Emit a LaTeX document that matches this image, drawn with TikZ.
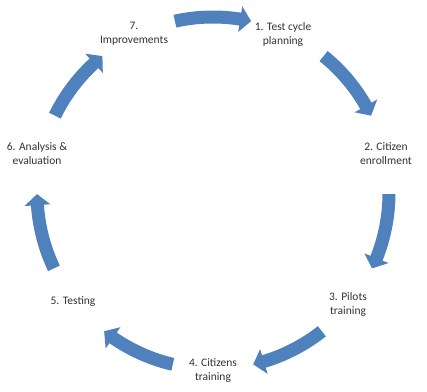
\documentclass[tikz,border=0pt]{standalone}
\usepackage{fontspec}
\setmainfont{Carlito}
\definecolor{arrowblue}{RGB}{79,129,189}
\definecolor{labelgray}{RGB}{50,50,50}
\newcommand{\cycarrow}[1]{%
  \pgfmathsetmacro\ta{#1+12.5}%
  \pgfmathsetmacro\hb{#1-12.5+3.6}%
  \pgfmathsetmacro\tp{#1-12.5}%
  \fill[arrowfill] (\ta:182.5pt) arc[start angle=\ta, end angle=\hb, radius=182.5pt]
    -- (\hb:189pt) -- (\tp:176pt) -- (\hb:163pt) -- (\hb:169.5pt)
    arc[start angle=\hb, end angle=\ta, radius=169.5pt] -- cycle;}
\tikzset{
  arrowfill/.style={fill=arrowblue},
  lbl/.style={align=center, text=labelgray, font=\fontsize{11.5}{14}\selectfont, inner sep=0pt}
}
\begin{document}
\begin{tikzpicture}[x=1pt,y=1pt]
\useasboundingbox (0,0) rectangle (427,391);
\begin{scope}[shift={(213pt,198pt)}]
  \foreach \m in {90,38.57,-12.86,-64.29,-115.71,-167.14,141.43} {\cycarrow{\m}}
\end{scope}
\node[lbl] (n7) at (134,357) {7.\\Improvements};
\node[lbl] (n1) at (283,357) {1. Test cycle\\planning};
\node[lbl] (n2) at (386,237) {2. Citizen\\enrollment};
\node[lbl] (n3) at (348,87) {3. Pilots\\training};
\node[lbl] (n4) at (213,20) {4. Citizens\\training};
\node[lbl] (n5) at (73,89) {5. Testing};
\node[lbl] (n6) at (37,237) {6. Analysis \&\\evaluation};
\end{tikzpicture}
\end{document}
